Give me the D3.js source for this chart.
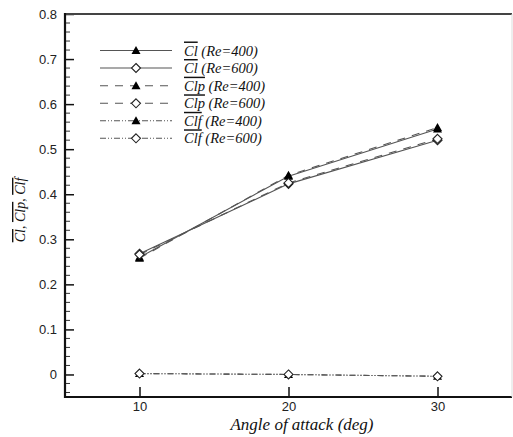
<!DOCTYPE html>
<html><head><meta charset="utf-8">
<script src="https://cdn.jsdelivr.net/npm/d3@7"></script>
<style>body{margin:0;background:#fff}svg{display:block}</style>
</head><body><svg id="c" width="513" height="437"></svg>
<script>
const angles = [10, 20, 30];
const clRe400 = [0.260, 0.440, 0.545];
const clRe600 = [0.268, 0.423, 0.520];
const clpRe400 = [0.258, 0.442, 0.548];
const clpRe600 = [0.266, 0.425, 0.523];
const clfRe400 = [0.002, 0.000, -0.004];
const clfRe600 = [0.002, 0.000, -0.004];
const xTicks = [10, 20, 30];
const yTicks = [0, 0.1, 0.2, 0.3, 0.4, 0.5, 0.6, 0.7, 0.8];
const seriesNames = ["Cl", "Cl", "Clp", "Clp", "Clf", "Clf"];
const seriesRe = ["(Re=400)", "(Re=600)", "(Re=400)", "(Re=600)", "(Re=400)", "(Re=600)"];

const series = [
  {vals: clRe400, dash: null, marker: "tri"},
  {vals: clRe600, dash: null, marker: "dia"},
  {vals: clpRe400, dash: "8,7", marker: "tri"},
  {vals: clpRe600, dash: "8,7", marker: "dia"},
  {vals: clfRe400, dash: "6,2,1,2,1,2", marker: "tri"},
  {vals: clfRe600, dash: "6,2,1,2,1,2", marker: "dia"}
];

const svg = d3.select("#c");
const L = 65, R = 512, T = 14, B = 397;
const x = d3.scaleLinear().domain([5, 35]).range([L, R]);
const y = d3.scaleLinear().domain([-0.05, 0.8]).range([B, T]);

// minor y ticks
const minor = d3.range(-0.04, 0.8001, 0.02).filter(v => Math.abs(Math.round(v*10)/10 - v) > 1e-6);
svg.append("g").selectAll("line").data(minor).join("line")
  .attr("x1", L).attr("x2", L + 5).attr("y1", d => y(d)).attr("y2", d => y(d))
  .attr("stroke", "#333").attr("stroke-width", 1);

// y axis
const yAxis = d3.axisLeft(y).tickValues(yTicks).tickSizeInner(-9).tickSizeOuter(0)
  .tickPadding(8).tickFormat(d => d === 0 ? "0" : d3.format(".1f")(d));
const gy = svg.append("g").attr("transform", `translate(${L},0)`).call(yAxis);
gy.select(".domain").remove();
gy.selectAll(".tick line").attr("stroke", "#111").attr("stroke-width", 1.5);
gy.selectAll(".tick text").attr("x", -8).attr("font-family", "Liberation Sans, Arial, sans-serif")
  .attr("font-size", 13).attr("fill", "#222");

// x axis
const xAxis = d3.axisBottom(x).tickValues(xTicks).tickSizeInner(-10).tickSizeOuter(0).tickPadding(6);
const gx = svg.append("g").attr("transform", `translate(0,${B})`).call(xAxis);
gx.select(".domain").remove();
gx.selectAll(".tick line").attr("stroke", "#111").attr("stroke-width", 1.5);
gx.selectAll(".tick text").attr("y", 5).attr("dy", "0.71em").attr("font-family", "Liberation Sans, Arial, sans-serif")
  .attr("font-size", 13).attr("fill", "#222");

// frame
svg.append("line").attr("x1", L).attr("x2", R).attr("y1", T).attr("y2", T).attr("stroke", "#444").attr("stroke-width", 2);
svg.append("line").attr("x1", L).attr("x2", L).attr("y1", T - 1).attr("y2", B + 1).attr("stroke", "#111").attr("stroke-width", 2.2);
svg.append("line").attr("x1", L - 1).attr("x2", R).attr("y1", B).attr("y2", B).attr("stroke", "#111").attr("stroke-width", 2.2);
svg.append("line").attr("x1", R).attr("x2", R).attr("y1", T).attr("y2", B).attr("stroke", "#ddd").attr("stroke-width", 1);

// lines
const line = d3.line().x((d, i) => x(angles[i])).y(d => y(d));
function marker(g, type, cx, cy) {
  if (type === "tri") {
    g.append("path").attr("d", `M${cx},${cy-4.5}L${cx+4.5},${cy+3.5}L${cx-4.5},${cy+3.5}Z`).attr("fill", "#000");
  } else {
    g.append("path").attr("d", `M${cx},${cy-4.5}L${cx+4.5},${cy}L${cx},${cy+4.5}L${cx-4.5},${cy}Z`)
      .attr("fill", "#fff").attr("stroke", "#222").attr("stroke-width", 1.1);
  }
}
const gl = svg.append("g");
series.forEach(s => {
  gl.append("path").datum(s.vals).attr("d", line).attr("fill", "none")
    .attr("stroke", "#555").attr("stroke-width", 1.1)
    .attr("stroke-dasharray", s.dash);
});
const gm = svg.append("g");
series.forEach(s => {
  s.vals.forEach((v, i) => marker(gm, s.marker, x(angles[i]), y(v)));
});

// legend
const lg = svg.append("g");
const rowY = [50.5, 68, 85.7, 103.3, 120.8, 138.3];
series.forEach((s, i) => {
  const yy = rowY[i];
  lg.append("line").attr("x1", 100).attr("x2", 172).attr("y1", yy).attr("y2", yy)
    .attr("stroke", "#555").attr("stroke-width", 1.1).attr("stroke-dasharray", s.dash);
  marker(lg, s.marker, 136, yy);
  const t = lg.append("text").attr("x", 184).attr("y", yy + 5)
    .attr("font-family", "Liberation Serif, Times New Roman, serif").attr("font-style", "italic")
    .attr("font-size", 14.5).attr("fill", "#111");
  t.append("tspan").attr("text-decoration", "overline").text(seriesNames[i]);
  t.append("tspan").text(" " + seriesRe[i]);
});

// axis titles
svg.append("text").attr("x", 302).attr("y", 430).attr("text-anchor", "middle")
  .attr("font-family", "Liberation Serif, Times New Roman, serif").attr("font-style", "italic")
  .attr("font-size", 17).attr("fill", "#111").text("Angle of attack (deg)");

const yt = svg.append("text").attr("transform", "translate(25,210) rotate(-90)").attr("text-anchor", "middle")
  .attr("font-family", "Liberation Serif, Times New Roman, serif").attr("font-style", "italic")
  .attr("font-size", 14).attr("fill", "#111");
["Cl", "Clp", "Clf"].forEach((n, i) => {
  yt.append("tspan").attr("text-decoration", "overline").text(n);
  if (i < 2) yt.append("tspan").text(", ");
});
</script></body></html>
